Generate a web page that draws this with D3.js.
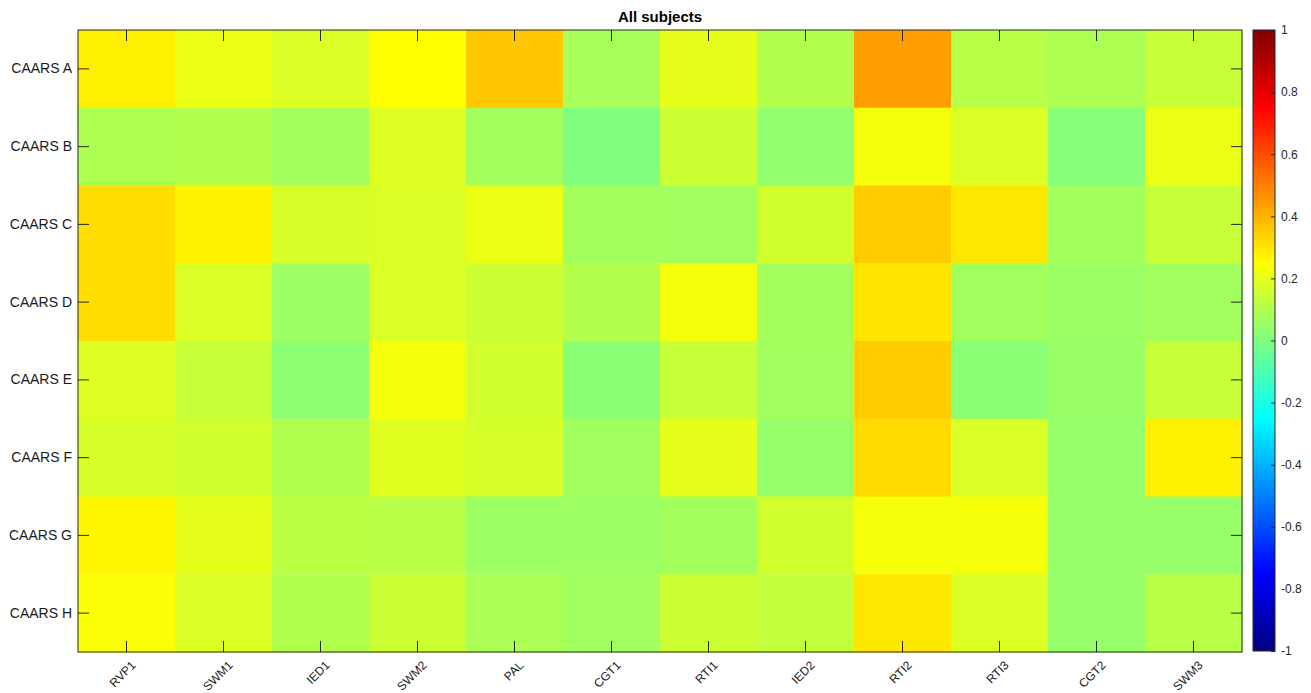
<!DOCTYPE html>
<html>
<head>
<meta charset="utf-8">
<script src="https://cdn.jsdelivr.net/npm/d3@7/dist/d3.min.js"></script>
<style>
  html, body { margin: 0; padding: 0; background: #fff; }
  svg { display: block; font-family: Arial, "Liberation Sans", sans-serif; }
</style>
</head>
<body>
<svg id="chart" width="1311" height="693"></svg>
<script>
// Correlation heatmap: CAARS subscales vs. cognitive test measures
const title = "All subjects";
const columns = ["RVP1", "SWM1", "IED1", "SWM2", "PAL", "CGT1", "RTI1", "IED2", "RTI2", "RTI3", "CGT2", "SWM3"];
const rows = ["CAARS A", "CAARS B", "CAARS C", "CAARS D", "CAARS E", "CAARS F", "CAARS G", "CAARS H"];

// one array of correlation values per row, in column order
const caarsA = [0.28, 0.21, 0.18, 0.25, 0.36, 0.08, 0.20, 0.10, 0.44, 0.11, 0.09, 0.14];
const caarsB = [0.09, 0.10, 0.07, 0.185, 0.07, 0.00, 0.15, 0.035, 0.23, 0.18, 0.015, 0.21];
const caarsC = [0.315, 0.275, 0.17, 0.18, 0.21, 0.07, 0.065, 0.16, 0.35, 0.295, 0.07, 0.14];
const caarsD = [0.315, 0.18, 0.055, 0.18, 0.15, 0.10, 0.23, 0.07, 0.30, 0.065, 0.055, 0.065];
const caarsE = [0.185, 0.14, 0.025, 0.23, 0.16, 0.02, 0.14, 0.065, 0.35, 0.02, 0.05, 0.14];
const caarsF = [0.17, 0.16, 0.095, 0.19, 0.17, 0.065, 0.20, 0.045, 0.32, 0.175, 0.045, 0.28];
const caarsG = [0.265, 0.20, 0.12, 0.11, 0.055, 0.055, 0.07, 0.16, 0.23, 0.23, 0.045, 0.045];
const caarsH = [0.24, 0.18, 0.095, 0.15, 0.085, 0.065, 0.15, 0.13, 0.295, 0.18, 0.045, 0.11];
const matrix = [caarsA, caarsB, caarsC, caarsD, caarsE, caarsF, caarsG, caarsH];

const colorTicks = [-1, -0.8, -0.6, -0.4, -0.2, 0, 0.2, 0.4, 0.6, 0.8, 1];

// MATLAB-style "jet" colormap on t in [0,1]
function jet(t) {
  t = Math.max(0, Math.min(1, t));
  const clamp = v => Math.max(0, Math.min(1, v));
  const r = clamp(Math.min(4 * t - 1.5, -4 * t + 4.5));
  const g = clamp(Math.min(4 * t - 0.5, -4 * t + 3.5));
  const b = clamp(Math.min(4 * t + 0.5, -4 * t + 2.5));
  return d3.rgb(r * 255, g * 255, b * 255).formatHex();
}
const color = d3.scaleSequential([-1, 1], jet);

const svg = d3.select("#chart");
const plot = { left: 78, right: 1242, top: 30, bottom: 652 };
const axisColor = "#262626";

const x = d3.scaleBand(columns, [plot.left, plot.right]).padding(0);
const y = d3.scaleBand(rows, [plot.top, plot.bottom]).padding(0);

const cells = [];
rows.forEach((r, i) => columns.forEach((c, j) => cells.push({ row: r, col: c, value: matrix[i][j] })));

svg.append("g").selectAll("rect")
  .data(cells)
  .join("rect")
  .attr("x", d => x(d.col))
  .attr("y", d => y(d.row))
  .attr("width", x.bandwidth() + 0.5)
  .attr("height", y.bandwidth() + 0.5)
  .attr("fill", d => color(d.value));

// axes with inward ticks on all four sides
const tickLen = 11;
function styleAxis(g) {
  g.select(".domain").remove();
  g.selectAll(".tick line").attr("stroke", axisColor).attr("stroke-width", 1);
  g.selectAll(".tick text").attr("fill", "#1a1a1a").style("font-size", "14px");
}

svg.append("g")
  .attr("transform", `translate(${plot.left},0)`)
  .call(d3.axisLeft(y).tickSize(-tickLen).tickPadding(6))
  .call(styleAxis);

svg.append("g")
  .attr("transform", `translate(${plot.right},0)`)
  .call(d3.axisRight(y).tickSize(-tickLen).tickFormat(""))
  .call(styleAxis);

svg.append("g")
  .attr("transform", `translate(0,${plot.top})`)
  .call(d3.axisTop(x).tickSize(-tickLen).tickFormat(""))
  .call(styleAxis);

const xAxis = svg.append("g")
  .attr("transform", `translate(0,${plot.bottom})`)
  .call(d3.axisBottom(x).tickSize(-tickLen))
  .call(styleAxis);
xAxis.selectAll(".tick text")
  .style("font-size", "12px")
  .attr("x", 0).attr("y", 0).attr("dy", "0.35em")
  .attr("text-anchor", "end")
  .attr("transform", "translate(7,11) rotate(-45)");

// axes box
svg.append("rect")
  .attr("x", plot.left).attr("y", plot.top)
  .attr("width", plot.right - plot.left).attr("height", plot.bottom - plot.top)
  .attr("fill", "none").attr("stroke", axisColor).attr("stroke-width", 1);

// title
svg.append("text")
  .attr("x", (plot.left + plot.right) / 2).attr("y", 22)
  .attr("text-anchor", "middle")
  .style("font-size", "15px").style("font-weight", "bold")
  .attr("fill", "#000")
  .text(title);

// colorbar
const cb = { left: 1253, right: 1275, top: 30, bottom: 651 };
const defs = svg.append("defs");
const grad = defs.append("linearGradient")
  .attr("id", "jetGrad").attr("x1", 0).attr("y1", 1).attr("x2", 0).attr("y2", 0);
d3.range(0, 65).forEach(i => {
  const t = i / 64;
  grad.append("stop").attr("offset", t).attr("stop-color", jet(t));
});
svg.append("rect")
  .attr("x", cb.left).attr("y", cb.top)
  .attr("width", cb.right - cb.left).attr("height", cb.bottom - cb.top)
  .attr("fill", "url(#jetGrad)");

const cScale = d3.scaleLinear([-1, 1], [cb.bottom, cb.top]);
const cAxis = svg.append("g")
  .attr("transform", `translate(${cb.right},0)`)
  .call(d3.axisRight(cScale).tickValues(colorTicks).tickSize(-4).tickPadding(6)
    .tickFormat(d => String(Math.round(d * 10) / 10)))
  .call(styleAxis);
cAxis.selectAll(".tick text").style("font-size", "12px").attr("fill", "#262626");

svg.append("rect")
  .attr("x", cb.left).attr("y", cb.top)
  .attr("width", cb.right - cb.left).attr("height", cb.bottom - cb.top)
  .attr("fill", "none").attr("stroke", axisColor).attr("stroke-width", 1);
</script>
</body>
</html>
